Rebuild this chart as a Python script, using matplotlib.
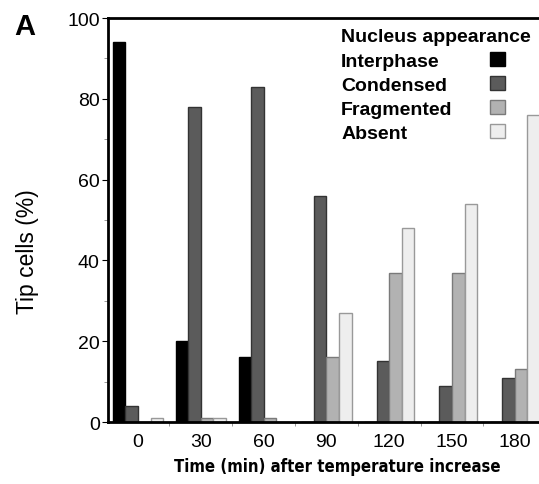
import numpy as np
import matplotlib
matplotlib.use("Agg")
import matplotlib.pyplot as plt
from matplotlib import font_manager as fm
from matplotlib.patches import Rectangle

times = ["0", "30", "60", "90", "120", "150", "180"]
interphase = [94, 20, 16, 0, 0, 0, 0]
condensed = [4, 78, 83, 56, 15, 9, 11]
fragmented = [0, 1, 1, 16, 37, 37, 13]
absent = [1, 1, 0, 27, 48, 54, 76]

series = [("Interphase", interphase, "#000000", "#000000"),
          ("Condensed", condensed, "#5b5b5b", "#333333"),
          ("Fragmented", fragmented, "#b2b2b2", "#7a7a7a"),
          ("Absent", absent, "#eeeeee", "#999999")]

plt.rcParams['font.family'] = ['Liberation Sans', 'DejaVu Sans']

# look for a narrow font for the x label
narrow = None
for f in fm.fontManager.ttflist:
    if ('Narrow' in f.name or 'Condensed' in f.name or
            f.stretch in ('condensed', 'semi-condensed', 'extra-condensed')):
        if narrow is None or (f.weight in ('bold', 700) and narrow.weight not in ('bold', 700)):
            narrow = f

fig = plt.figure(figsize=(5.39, 4.85), dpi=100)
ax = fig.add_axes([0.2004, 0.1278, 0.7996, 0.833])

x = np.arange(len(times))
w = 0.2
for i, (name, vals, fc, ec) in enumerate(series):
    ax.bar(x + (i - 1.5) * w, vals, w, color=fc, edgecolor=ec, linewidth=1, label=name)

ax.set_xlim(-0.478, 6.385)
ax.set_ylim(0, 100)
ax.set_xticks(x)
ax.set_xticklabels(times, fontsize=14)
ax.set_xticks(x[:-1] + 0.5, minor=True)
ax.tick_params(axis='x', which='major', length=0, pad=8)
ax.tick_params(axis='x', which='minor', length=3, direction='out', color='#888888')
ax.set_yticks(np.arange(0, 101, 20))
ax.set_yticks(np.arange(10, 100, 20), minor=True)
ax.tick_params(axis='y', which='major', labelsize=14, length=4, direction='out', pad=2)
ax.tick_params(axis='y', which='minor', length=3, direction='out', color='#888888')

ax.spines['right'].set_visible(False)
for s in ['left', 'bottom', 'top']:
    ax.spines[s].set_linewidth(2)

ax.set_ylabel("Tip cells (%)", fontsize=16.5)
ax.yaxis.set_label_coords(-0.16, 0.423)

if narrow is not None:
    xl = ax.set_xlabel("Time (min) after temperature increase",
                       fontproperties=fm.FontProperties(fname=narrow.fname, size=12))
else:
    xl = ax.set_xlabel("Time (min) after temperature increase", fontsize=12.5,
                       fontweight='bold')
ax.xaxis.set_label_coords(0.531, -0.087)
xl.set_va('top')

# legend: title, left-aligned labels, keys in a column on the right
ax.text(0.541, 0.944, "Nucleus appearance", transform=ax.transAxes,
        fontsize=14, fontweight='bold', va='baseline')
for i, (name, vals, fc, ec) in enumerate(series):
    yb = 0.881 - i * 24 / 404
    ax.text(0.541, yb, name, transform=ax.transAxes, fontsize=14,
            fontweight='bold', va='baseline')
    ax.add_patch(Rectangle((0.886, yb), 0.0348, 0.0347, transform=ax.transAxes,
                           facecolor=fc, edgecolor=ec, linewidth=1, clip_on=False))

fig.text(0.027, 0.928, "A", fontsize=21, fontweight='bold', va='baseline')

fig.savefig("out.png", dpi=100)
